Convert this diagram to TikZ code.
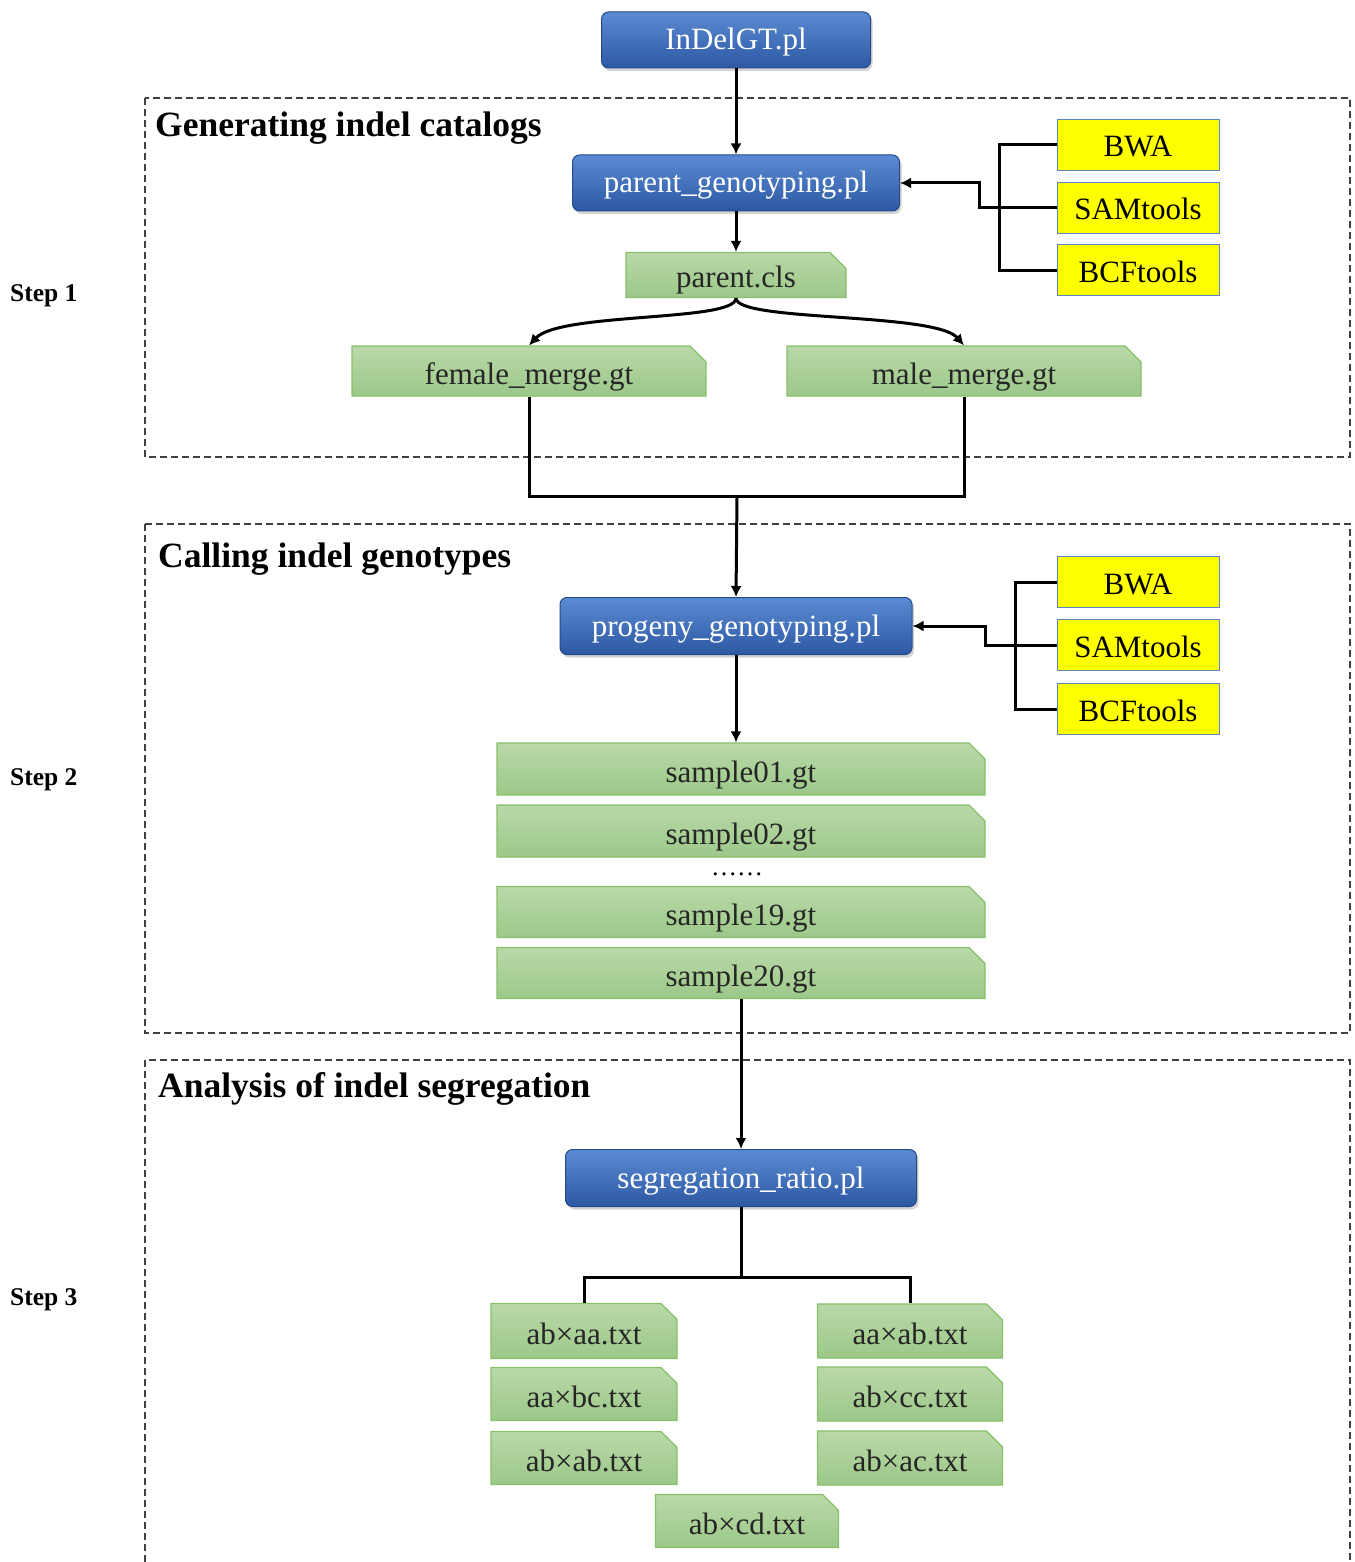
\documentclass[tikz,border=0pt]{standalone}
\usepackage{fontspec}
\setmainfont{Liberation Serif}
\usetikzlibrary{shapes.misc,shadows,arrows.meta}
\definecolor{blueT}{HTML}{5B8BD3}
\definecolor{blueB}{HTML}{2D58A3}
\definecolor{blueD}{HTML}{24498A}
\definecolor{greenT}{HTML}{B9D9A8}
\definecolor{greenB}{HTML}{9CC889}
\definecolor{greenD}{HTML}{86C06A}
\definecolor{yel}{HTML}{FFFF00}
\definecolor{yelD}{HTML}{5A86C5}
\definecolor{dashC}{HTML}{404040}
\tikzset{
  bluebox/.style={rectangle, rounded corners=7pt, top color=blueT, bottom color=blueB,
    draw=blueD, line width=1pt, text=white, inner sep=0pt,
    text height=24pt, text depth=4pt,
    font=\fontsize{31}{36}\selectfont,
    drop shadow={opacity=0.35, shadow xshift=2pt, shadow yshift=-3pt}},
  greenbox/.style={chamfered rectangle, chamfered rectangle corners=north east,
    chamfered rectangle xsep=8pt, chamfered rectangle ysep=8pt,
    top color=greenT, bottom color=greenB, draw=greenD, line width=1.2pt,
    text height=30pt, text depth=4pt,
    inner sep=0pt, font=\fontsize{31}{36}\selectfont, text=black!85},
  toolbox/.style={rectangle, fill=yel, draw=yelD, line width=1pt, inner sep=0pt,
    text height=28pt, text depth=4pt,
    minimum width=162pt, minimum height=51pt, font=\fontsize{31}{36}\selectfont},
  conn/.style={line width=3pt, black},
  arr/.style={conn, -{Latex[length=11pt,width=11pt]}},
  group/.style={dashC, line width=1.2pt, dash pattern=on 7pt off 4pt},
  titletext/.style={anchor=west, font=\fontsize{35.5}{40}\selectfont\bfseries, inner sep=0pt},
  steptext/.style={anchor=west, font=\fontsize{25.5}{28}\selectfont\bfseries, inner sep=0pt},
}
\begin{document}
\begin{tikzpicture}[x=1pt,y=-1pt]
\useasboundingbox (0,0) rectangle (1354,1562);
% group boxes
\draw[group] (145,98) rectangle (1350,457);
\draw[group] (145,524) rectangle (1350,1033);
\draw[group] (145,1562) -- (145,1060) -- (1350,1060) -- (1350,1562);
\node[titletext] (t1) at (155,128) {Generating indel catalogs};
\node[titletext] (t2) at (158,559) {Calling indel genotypes};
\node[titletext] (t3) at (158,1089) {Analysis of indel segregation};
\node[steptext] (s1) at (10,296) {Step 1};
\node[steptext] (s2) at (10,780) {Step 2};
\node[steptext] (s3) at (10,1300) {Step 3};

% step 1
\node[bluebox, minimum width=269pt, minimum height=56pt] (indel) at (736,40) {InDelGT.pl};
\node[bluebox, minimum width=327pt, minimum height=56pt] (pg) at (736,183) {parent\_genotyping.pl};
\node[greenbox, text height=26pt, text depth=2pt, minimum width=220pt, minimum height=45pt] (pcls) at (736,275) {parent.cls};
\node[greenbox, minimum width=354pt, minimum height=50pt] (fem) at (529,371) {female\_merge.gt};
\node[greenbox, minimum width=354pt, minimum height=50pt] (male) at (964,371) {male\_merge.gt};
\node[toolbox] (bwa1) at (1138,145) {BWA};
\node[toolbox] (sam1) at (1138,208) {SAMtools};
\node[toolbox] (bcf1) at (1138,270) {BCFtools};
\coordinate (b1) at (999,208);
\draw[conn] (bwa1.west) -| (b1) |- (bcf1.west);
\draw[arr] (sam1.west) -- (979,208) |- (pg.east);
\draw[arr] (indel.south) -- (pg.north);
\draw[arr] (pg.south) -- (pcls.north);
\draw[arr] (pcls.south) .. controls (736,322) and (560,312) .. (fem.north);
\draw[arr] (pcls.south) .. controls (736,322) and (935,312) .. (male.north);
\coordinate (j1) at (737,496);
\draw[conn] (fem.south) |- (j1) -| (male.south);

% step 2
\node[bluebox, minimum width=352pt, minimum height=57pt] (prog) at (736,626) {progeny\_genotyping.pl};
\node[toolbox] (bwa2) at (1138,582) {BWA};
\node[toolbox] (sam2) at (1138,645) {SAMtools};
\node[toolbox] (bcf2) at (1138,709) {BCFtools};
\coordinate (b2) at (1015,645);
\draw[conn] (bwa2.west) -| (b2) |- (bcf2.west);
\draw[arr] (sam2.west) -- (985,645) |- (prog.east);
\draw[arr] (j1) -- (prog.north);
\node[greenbox, minimum width=488pt, minimum height=52pt] (s01) at (741,769) {sample01.gt};
\node[greenbox, minimum width=488pt, minimum height=52pt] (s02) at (741,831) {sample02.gt};
\node[inner sep=0pt, font=\fontsize{26}{30}\selectfont] (dots) at (737,874) {……};
\node[greenbox, minimum width=488pt, minimum height=51pt] (s19) at (741,912) {sample19.gt};
\node[greenbox, minimum width=488pt, minimum height=51pt] (s20) at (741,973) {sample20.gt};
\draw[arr] (prog.south) -- (s01.north -| prog.south);

% step 3
\node[bluebox, minimum width=351pt, minimum height=57pt] (seg) at (741,1178) {segregation\_ratio.pl};
\draw[arr] (s20.south) -- (seg.north);
\node[greenbox, minimum width=186pt, minimum height=55pt] (l1) at (584,1331) {ab×aa.txt};
\node[greenbox, minimum width=186pt, minimum height=53pt] (l2) at (584,1394) {aa×bc.txt};
\node[greenbox, minimum width=186pt, minimum height=53pt] (l3) at (584,1458) {ab×ab.txt};
\node[greenbox, minimum width=185pt, minimum height=54pt] (r1) at (910,1331) {aa×ab.txt};
\node[greenbox, minimum width=185pt, minimum height=54pt] (r2) at (910,1394) {ab×cc.txt};
\node[greenbox, minimum width=185pt, minimum height=54pt] (r3) at (910,1458) {ab×ac.txt};
\node[greenbox, minimum width=183pt, minimum height=53pt] (cd) at (747,1521) {ab×cd.txt};
\coordinate (j3) at (741,1277);
\draw[conn] (seg.south) -- (j3);
\draw[conn] (l1.north) |- (j3) -| (r1.north);
\end{tikzpicture}
\end{document}
